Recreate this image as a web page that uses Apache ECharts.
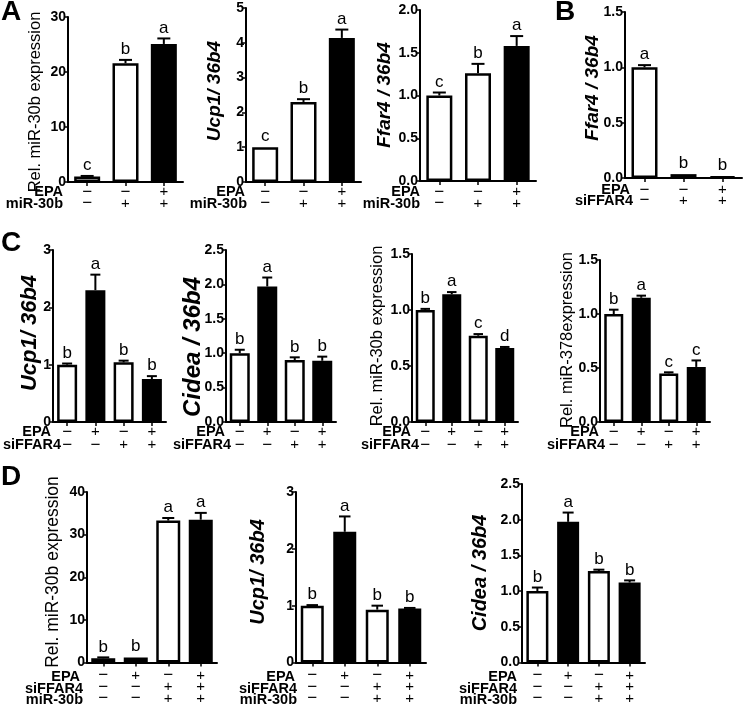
<!DOCTYPE html>
<html><head><meta charset="utf-8">
<script src="https://cdn.jsdelivr.net/npm/echarts@6/dist/echarts.min.js"></script>
<style>html,body{margin:0;padding:0;background:#fff}#c{width:745px;height:707px}</style>
</head><body><div id="c"></div>
<script>
// ---------- DATA ----------
// treatment rows (− / +)
const epaA = ['−','−','+'];
const mirA = ['−','+','+'];
const epaB = ['−','−','+'];
const siB  = ['−','+','+'];
const epaC = ['−','+','−','+'];
const siC  = ['−','−','+','+'];
const epaD = ['−','+','−','+'];
const siD  = ['−','−','+','+'];
const mirD = ['−','−','+','+'];

// Panel A
const a1Vals = [1.0, 21.6, 25.1];   const a1Errs = [0.1, 0.6, 1.0];     const a1Let = ['c','b','a'];
const a2Vals = [1.0, 2.30, 4.14];   const a2Errs = [0.01, 0.08, 0.24];  const a2Let = ['c','b','a'];
const a3Vals = [1.0, 1.26, 1.58];   const a3Errs = [0.035, 0.11, 0.115];const a3Let = ['c','b','a'];
// Panel B
const bVals  = [1.0, 0.035, 0.015]; const bErrs  = [0.02, 0.004, 0.003];const bLet  = ['a','b','b'];
// Panel C
const c1Vals = [1.0, 2.30, 1.04, 0.75]; const c1Errs = [0.02, 0.27, 0.03, 0.05];  const c1Let = ['b','a','b','b'];
const c2Vals = [1.0, 1.97, 0.90, 0.89]; const c2Errs = [0.05, 0.13, 0.04, 0.06];  const c2Let = ['b','a','b','b'];
const c3Vals = [1.0, 1.14, 0.77, 0.66]; const c3Errs = [0.01, 0.02, 0.015, 0.01]; const c3Let = ['b','a','c','d'];
const c4Vals = [1.0, 1.15, 0.45, 0.51]; const c4Errs = [0.04, 0.02, 0.01, 0.06];  const c4Let = ['b','a','c','c'];
// Panel D
const d1Vals = [1.0, 1.2, 33.3, 33.5];  const d1Errs = [0.2, 0.1, 0.6, 1.6];      const d1Let = ['b','b','a','a'];
const d2Vals = [1.0, 2.30, 0.93, 0.95]; const d2Errs = [0.01, 0.27, 0.07, 0.01];  const d2Let = ['b','a','b','b'];
const d3Vals = [1.0, 1.97, 1.28, 1.12]; const d3Errs = [0.05, 0.13, 0.02, 0.03];  const d3Let = ['b','a','b','b'];

// y-axis ranges
const yMaxes = {A1:30, A2:5, A3:2, B:1.5, C1:3, C2:2.5, C3:1.5, C4:1.5, D1:40, D2:3, D3:2.5};
const yInts  = {A1:10, A2:1, A3:0.5, B:0.5, C1:1, C2:0.5, C3:0.5, C4:0.5, D1:10, D2:1, D3:0.5};

// titles
const tRel30 = 'Rel. miR-30b expression';
const tRel378 = 'Rel. miR-378expression';
const tUcp = 'Ucp1/ 36b4';
const tFfar = 'Ffar4 / 36b4';
const tCidea = 'Cidea / 36b4';

// ---------- PANELS ----------
const panels = [
 {key:'A1', vals:a1Vals, errs:a1Errs, let:a1Let, rows:[['EPA',epaA],['miR-30b',mirA]], title:tRel30, ital:false,
  L:{left:68,right:183,top:17,bottom:182,bw:26,tx:35,ty:102,tfs:16.5,rowX:[63,63],off:10,lh:11.5}},
 {key:'A2', vals:a2Vals, errs:a2Errs, let:a2Let, rows:[['EPA',epaA],['miR-30b',mirA]], title:tUcp, ital:true,
  L:{left:246,right:361,top:8,bottom:182,bw:26,tx:215,ty:91,tfs:19,rowX:[245,247],off:10,lh:11.5}},
 {key:'A3', vals:a3Vals, errs:a3Errs, let:a3Let, rows:[['EPA',epaA],['miR-30b',mirA]], title:tFfar, ital:true,
  L:{left:420,right:536,top:10,bottom:181,bw:26,tx:385,ty:95,tfs:19,rowX:[420,420],off:11,lh:11.5}},
 {key:'B', vals:bVals, errs:bErrs, let:bLet, rows:[['EPA',epaB],['siFFAR4',siB]], title:tFfar, ital:true,
  L:{left:625,right:742,top:12,bottom:178,bw:26,tx:593,ty:88,tfs:19,rowX:[630,633],off:12,lh:10.5}},
 {key:'C1', vals:c1Vals, errs:c1Errs, let:c1Let, rows:[['EPA',epaC],['siFFAR4',siC]], title:tUcp, ital:true,
  L:{left:53,right:166,top:250,bottom:422,bw:20,tx:30,ty:333,tfs:22,rowX:[51,61],off:10,lh:13}},
 {key:'C2', vals:c2Vals, errs:c2Errs, let:c2Let, rows:[['EPA',epaC],['siFFAR4',siC]], title:tCidea, ital:true,
  L:{left:226,right:336,top:250,bottom:422,bw:20,tx:193,ty:347,tfs:24,rowX:[225,231],off:10,lh:13}},
 {key:'C3', vals:c3Vals, errs:c3Errs, let:c3Let, rows:[['EPA',epaC],['siFFAR4',siC]], title:tRel30, ital:false,
  L:{left:412,right:518,top:254,bottom:422,bw:19,tx:377,ty:336,tfs:16.5,rowX:[411,419],off:10,lh:13}},
 {key:'C4', vals:c4Vals, errs:c4Errs, let:c4Let, rows:[['EPA',epaC],['siFFAR4',siC]], title:tRel378, ital:false,
  L:{left:600,right:710,top:260,bottom:422,bw:19,tx:567,ty:340,tfs:16.5,rowX:[599,605],off:10,lh:13}},
 {key:'D1', vals:d1Vals, errs:d1Errs, let:d1Let, rows:[['EPA',epaD],['siFFAR4',siD],['miR-30b',mirD]], title:tRel30, ital:false,
  L:{left:87,right:217,top:492,bottom:664,bw:24,tx:53,ty:572,tfs:17.5,rowX:[80,83,83],off:13,lh:11.5}},
 {key:'D2', vals:d2Vals, errs:d2Errs, let:d2Let, rows:[['EPA',epaD],['siFFAR4',siD],['miR-30b',mirD]], title:tUcp, ital:true,
  L:{left:296,right:426,top:492,bottom:664,bw:23,tx:258,ty:572,tfs:20,rowX:[295,297,297],off:13,lh:11.5}},
 {key:'D3', vals:d3Vals, errs:d3Errs, let:d3Let, rows:[['EPA',epaD],['siFFAR4',siD],['miR-30b',mirD]], title:tCidea, ital:true,
  L:{left:522,right:645,top:484,bottom:664,bw:22,tx:480,ty:573,tfs:20,rowX:[517,517,517],off:13,lh:11.5}}
];

const FONT = '"Liberation Sans", Arial, sans-serif';
const grids=[], xAxes=[], yAxes=[], series=[], graphics=[];

function errRender(letters, capW){
  return function(params, api){
    const i = api.value(0), v = api.value(1), e = api.value(2);
    const base = api.coord([i, v]);
    const top = api.coord([i, v + e]);
    const ch = [];
    if (top[1] < base[1] - 0.5) {
      ch.push({type:'line', shape:{x1:base[0],y1:base[1],x2:top[0],y2:top[1]}, style:{stroke:'#000',lineWidth:2}});
      ch.push({type:'line', shape:{x1:top[0]-capW/2,y1:top[1],x2:top[0]+capW/2,y2:top[1]}, style:{stroke:'#000',lineWidth:2}});
    }
    ch.push({type:'text', style:{text:letters[params.dataIndex], x:top[0], y:top[1]-2, align:'center', verticalAlign:'bottom',
      font:'17px ' + FONT, fill:'#000'}});
    return {type:'group', children:ch};
  };
}

panels.forEach((p, gi) => {
  const L = p.L;
  const epa = p.rows[0][1];
  grids.push({left:L.left, top:L.top, width:L.right-L.left, height:L.bottom-L.top, containLabel:false});
  const cats = p.vals.map((_, i) => String(i));
  xAxes.push({
    gridIndex:gi, type:'category', data:cats, boundaryGap:true,
    axisLine:{lineStyle:{color:'#000', width:2}},
    axisTick:{show:true, alignWithLabel:true, length:4, lineStyle:{color:'#000', width:1.5}},
    axisLabel:{
      interval:0, margin:L.off - L.lh/2, lineHeight:L.lh, color:'#000',
      formatter:(v, idx) => p.rows.map(r => r[1][idx] === '+' ? '{p|+}' : '{m|−}').join('\n'),
      rich:{
        p:{fontFamily:FONT, fontSize:15, lineHeight:L.lh, color:'#000'},
        m:{fontFamily:FONT, fontSize:17, lineHeight:L.lh, color:'#000'}
      }
    },
    splitLine:{show:false}
  });
  const dec = yInts[p.key] < 1 ? 1 : 0;
  yAxes.push({
    gridIndex:gi, type:'value', min:0, max:yMaxes[p.key], interval:yInts[p.key],
    axisLine:{show:true, lineStyle:{color:'#000', width:2}},
    axisTick:{show:true, length:4, lineStyle:{color:'#000', width:1.5}},
    axisLabel:{margin:2, color:'#000', fontFamily:FONT, fontWeight:'bold', fontSize:14,
      formatter:v => v.toFixed(dec)},
    splitLine:{show:false}
  });
  series.push({
    type:'bar', xAxisIndex:gi, yAxisIndex:gi, barWidth:L.bw, z:2,
    data:p.vals.map((v, i) => ({value:v, itemStyle:{color: epa[i] === '+' ? '#000' : '#fff', borderColor:'#000', borderWidth:2.5}})),
    animation:false
  });
  series.push({
    type:'custom', xAxisIndex:gi, yAxisIndex:gi, z:3,
    renderItem: errRender(p.let, L.bw/2),
    encode:{x:0, y:1},
    data:p.vals.map((v, i) => [i, v, p.errs[i]]),
    animation:false
  });
  graphics.push({type:'text', x:L.tx, y:L.ty, rotation:Math.PI/2,
    style:{text:p.title, align:'center', verticalAlign:'middle', fill:'#000',
      font:(p.ital ? 'italic bold ' : '') + L.tfs + 'px ' + FONT}});
  p.rows.forEach((r, k) => {
    graphics.push({type:'text', x:L.rowX[k], y:L.bottom + L.off + k*L.lh,
      style:{text:r[0], align:'right', verticalAlign:'middle', fill:'#000', font:'bold 14.5px ' + FONT}});
  });
});

[['A',1,12],['B',555,12],['C',1,243],['D',1,477]].forEach(t => {
  graphics.push({type:'text', x:t[1], y:t[2], style:{text:t[0], align:'left', verticalAlign:'middle', fill:'#000', font:'bold 28px ' + FONT}});
});

const chart = echarts.init(document.getElementById('c'), null, {renderer:'canvas'});
chart.setOption({
  animation:false, backgroundColor:'#fff',
  grid:grids, xAxis:xAxes, yAxis:yAxes, series:series, graphic:graphics
});
</script></body></html>
